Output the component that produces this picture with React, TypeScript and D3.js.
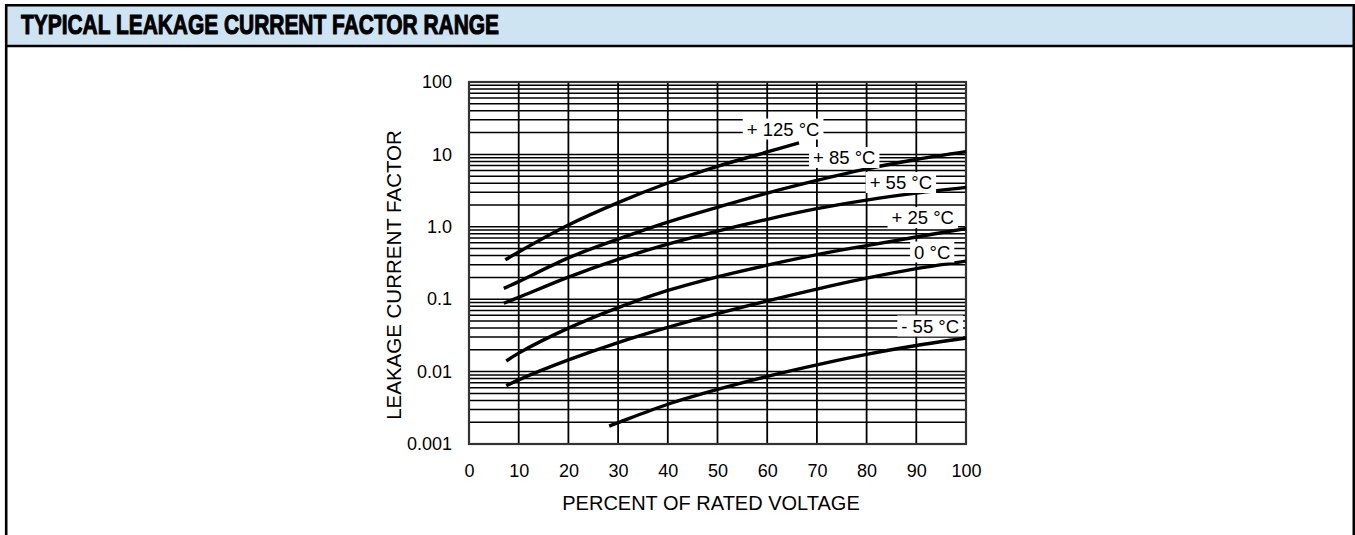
import React, { useEffect, useRef } from 'react';
import * as d3 from 'd3';

const WIDTH = 1355;
const HEIGHT = 535;

const chartTitle = 'TYPICAL LEAKAGE CURRENT FACTOR RANGE';
const xAxisTitle = 'PERCENT OF RATED VOLTAGE';
const yAxisTitle = 'LEAKAGE CURRENT FACTOR';

// tick labels
const xTickValues = [0, 10, 20, 30, 40, 50, 60, 70, 80, 90, 100];
const yTickValues = [0.001, 0.01, 0.1, 1, 10, 100];
const yTickLabels = ['0.001', '0.01', '0.1', '1.0', '10', '100'];

// curves: [percent of rated voltage, leakage current factor]
const temps = ['+ 125 °C', '+ 85 °C', '+ 55 °C', '+ 25 °C', '0 °C', '- 55 °C'];

const curve125: [number, number][] = [
  [7.3, 0.35], [10, 0.45], [20, 1.06], [30, 2.16], [40, 4.03], [50, 6.84], [60, 10.8], [66.4, 14.4],
];
const curve85: [number, number][] = [
  [7, 0.141], [10, 0.175], [20, 0.372], [30, 0.676], [40, 1.16], [50, 1.86], [60, 2.92], [70, 4.37],
  [80, 6.31], [90, 8.51], [100, 10.9],
];
const curve55: [number, number][] = [
  [7, 0.088], [10, 0.106], [20, 0.202], [30, 0.355], [40, 0.575], [50, 0.871], [60, 1.27], [70, 1.78],
  [80, 2.34], [90, 2.92], [100, 3.51],
];
const curve25: [number, number][] = [
  [7.5, 0.014], [10, 0.018], [20, 0.0398], [30, 0.0767], [40, 0.132], [50, 0.204], [60, 0.295],
  [70, 0.412], [80, 0.55], [90, 0.724], [100, 0.944],
];
const curve0: [number, number][] = [
  [7.5, 0.0064], [10, 0.0077], [20, 0.0145], [30, 0.0252], [40, 0.0408], [50, 0.0632], [60, 0.0946],
  [70, 0.138], [80, 0.195], [90, 0.264], [100, 0.336],
];
const curveMinus55: [number, number][] = [
  [28.2, 0.00177], [30, 0.00197], [40, 0.00354], [50, 0.00568], [60, 0.00859], [70, 0.0124],
  [80, 0.0173], [90, 0.0229], [100, 0.0291],
];

const curves = [curve125, curve85, curve55, curve25, curve0, curveMinus55];

// where each temperature tag sits (centre, in data units)
const tagSpots: [number, number][] = [
  [63.2, 22.4], [75.5, 9.06], [86.9, 4.09], [91.3, 1.34], [93.2, 0.449], [92.8, 0.0427],
];

const FONT = '"Liberation Sans", Arial, Helvetica, sans-serif';

const App: React.FC = () => {
  const svgRef = useRef<SVGSVGElement | null>(null);

  useEffect(() => {
    if (!svgRef.current) return;
    const svg = d3.select(svgRef.current);
    svg.selectAll('*').remove();

    // frame + header band
    svg.append('rect')
      .attr('x', 6).attr('y', 5)
      .attr('width', 1348).attr('height', 41)
      .attr('fill', '#cfe4f2');
    svg.append('path')
      .attr('d', 'M6.2,540 V5.2 H1353.8 V540 M6.2,46 H1353.8')
      .attr('fill', 'none')
      .attr('stroke', '#000')
      .attr('stroke-width', 2.6);
    svg.append('text')
      .attr('x', 21).attr('y', 33.5)
      .attr('font-family', '"Liberation Sans Narrow", "Liberation Sans", Arial, sans-serif')
      .attr('font-weight', 900)
      .attr('font-size', 28.5)
      .attr('textLength', 478)
      .attr('lengthAdjust', 'spacingAndGlyphs')
      .attr('stroke', '#000')
      .attr('stroke-width', 1.1)
      .attr('stroke-linejoin', 'round')
      .text(chartTitle);

    const x = d3.scaleLinear().domain([0, 100]).range([469, 966]);
    const y = d3.scaleLog().domain([0.001, 100]).range([444, 82]);

    const grid = svg.append('g');
    // horizontal log grid
    grid.selectAll('line.h')
      .data(y.ticks())
      .enter()
      .append('line')
      .attr('class', 'h')
      .attr('x1', x(0)).attr('x2', x(100))
      .attr('y1', d => y(d)).attr('y2', d => y(d))
      .attr('stroke', '#000')
      .attr('stroke-width', 1.5);
    // vertical grid
    grid.selectAll('line.v')
      .data(xTickValues.slice(1, -1))
      .enter()
      .append('line')
      .attr('class', 'v')
      .attr('x1', d => x(d)).attr('x2', d => x(d))
      .attr('y1', y(100)).attr('y2', y(0.001))
      .attr('stroke', '#000')
      .attr('stroke-width', 1.8);
    grid.append('rect')
      .attr('x', x(0)).attr('y', y(100))
      .attr('width', x(100) - x(0)).attr('height', y(0.001) - y(100))
      .attr('fill', 'none')
      .attr('stroke', '#333')
      .attr('stroke-width', 2.2);

    // curves
    const line = d3.line<[number, number]>()
      .x(d => x(d[0]))
      .y(d => y(d[1]))
      .curve(d3.curveCatmullRom.alpha(0.5));
    svg.append('g')
      .selectAll('path')
      .data(curves)
      .enter()
      .append('path')
      .attr('d', d => line(d) || '')
      .attr('fill', 'none')
      .attr('stroke', '#000')
      .attr('stroke-width', 3.4);

    // temperature tags with white boxes
    const tags = svg.append('g');
    temps.forEach((t, i) => {
      const [px, py] = tagSpots[i];
      const g = tags.append('g');
      const bg = g.append('rect').attr('fill', '#fff');
      const txt = g.append('text')
        .attr('x', x(px)).attr('y', y(py))
        .attr('dy', '0.36em')
        .attr('text-anchor', 'middle')
        .attr('font-family', FONT)
        .attr('font-size', 18.5)
        .attr('fill', '#000')
        .text(t);
      const bb = (txt.node() as SVGTextElement).getBBox();
      bg.attr('x', bb.x - 4).attr('width', bb.width + 8)
        .attr('y', y(py) - 10.5).attr('height', 21);
    });

    // axes
    const xAxis = svg.append('g')
      .attr('transform', `translate(0,${y(0.001)})`)
      .call(d3.axisBottom(x).tickValues(xTickValues).tickSize(0).tickPadding(20));
    xAxis.select('.domain').remove();
    xAxis.selectAll('text')
      .attr('font-family', FONT)
      .style('font-size', '18px')
      .attr('fill', '#000');

    const yAxis = svg.append('g')
      .attr('transform', `translate(${x(0)},0)`)
      .call(d3.axisLeft(y).tickValues(yTickValues)
        .tickFormat((_, i) => yTickLabels[i]).tickSize(0).tickPadding(17));
    yAxis.select('.domain').remove();
    yAxis.selectAll('text')
      .attr('font-family', FONT)
      .style('font-size', '18px')
      .attr('fill', '#000');

    svg.append('text')
      .attr('x', 711).attr('y', 510)
      .attr('text-anchor', 'middle')
      .attr('font-family', FONT)
      .attr('font-size', 20)
      .text(xAxisTitle);

    svg.append('text')
      .attr('transform', 'translate(401,275) rotate(-90)')
      .attr('text-anchor', 'middle')
      .attr('font-family', FONT)
      .attr('font-size', 20.5)
      .text(yAxisTitle);
  }, []);

  return (
    <svg
      ref={svgRef}
      width={WIDTH}
      height={HEIGHT}
      style={{ position: 'absolute', left: 0, top: 0, background: '#fff' }}
    />
  );
};

export default App;
